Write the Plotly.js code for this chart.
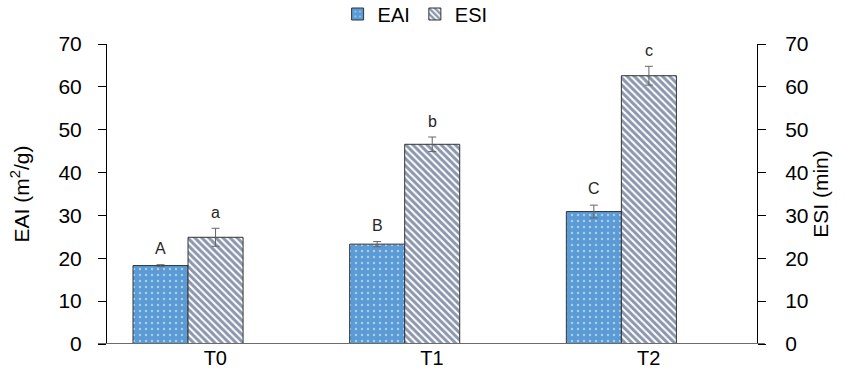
<!DOCTYPE html>
<html>
<head>
<meta charset="utf-8">
<script src="https://cdn.plot.ly/plotly-3.0.1.min.js"></script>
<style>html,body{margin:0;padding:0;background:#fff;}#chart{width:845px;height:387px;}</style>
</head>
<body>
<div id="chart"></div>
<script>
// ---- data ----
const categories = ["T0", "T1", "T2"];
const eaiValues = [18.3, 23.3, 30.9];
const eaiErrors = [0.2, 0.6, 1.5];
const eaiLetters = ["A", "B", "C"];
const esiValues = [24.9, 46.6, 62.6];
const esiErrors = [2.1, 1.7, 2.2];
const esiLetters = ["a", "b", "c"];
const yTicks = [0, 10, 20, 30, 40, 50, 60, 70];

// ---- style ----
const barWidth = 0.254;
const eaiOffset = -0.38;
const esiOffset = -0.126;
const idx = categories.map((c, i) => i);
const font = "Liberation Sans, Arial, sans-serif";

const eai = {
  type: "bar", name: "EAI", x: idx, y: eaiValues, yaxis: "y",
  width: barWidth, offset: eaiOffset,
  marker: {
    color: "#5B9BD5",
    line: {color: "#333333", width: 1},
    pattern: {shape: ".", bgcolor: "#5B9BD5", fgcolor: "#ffffff", size: 6, solidity: 0.12, fillmode: "overlay"}
  },
  error_y: {type: "data", array: eaiErrors, visible: true, color: "#666666", thickness: 1, width: 4},
  hoverinfo: "skip"
};
const esi = {
  type: "bar", name: "ESI", x: idx, y: esiValues, yaxis: "y2",
  width: barWidth, offset: esiOffset,
  marker: {
    color: "#ffffff",
    line: {color: "#333333", width: 1},
    pattern: {shape: "\\", bgcolor: "#ffffff", fgcolor: "#1A2F5C", size: 5, solidity: 0.6, fillmode: "overlay"}
  },
  error_y: {type: "data", array: esiErrors, visible: true, color: "#666666", thickness: 1, width: 4},
  hoverinfo: "skip"
};
// empty helper traces so that the tick-mark axes are drawn
const tickHolderL = {type: "scatter", mode: "markers", x: [], y: [], yaxis: "y3", showlegend: false, hoverinfo: "skip"};
const tickHolderR = {type: "scatter", mode: "markers", x: [], y: [], yaxis: "y4", showlegend: false, hoverinfo: "skip"};

const annotations = [];
idx.forEach(i => {
  annotations.push({x: i + eaiOffset + barWidth / 2, y: eaiValues[i] + eaiErrors[i], xref: "x", yref: "y",
    text: eaiLetters[i], showarrow: false, yanchor: "bottom", yshift: 6, font: {family: font, size: 16, color: "#262626"}});
  annotations.push({x: i + esiOffset + barWidth / 2, y: esiValues[i] + esiErrors[i], xref: "x", yref: "y2",
    text: esiLetters[i], showarrow: false, yanchor: "bottom", yshift: 5, font: {family: font, size: 16, color: "#262626"}});
});

const tickAxis = (side) => ({
  range: [0, 70], tickvals: yTicks, overlaying: "y", side: side, showgrid: false, zeroline: false,
  showline: false, showticklabels: false, ticks: "outside", ticklen: 8, tickcolor: "#000000", tickwidth: 1
});

const layout = {
  width: 845, height: 387,
  margin: {l: 107, r: 88, t: 44, b: 43, autoexpand: false},
  paper_bgcolor: "#ffffff", plot_bgcolor: "#ffffff",
  font: {family: font, color: "#000000", size: 20},
  barmode: "overlay",
  showlegend: true,
  legend: {orientation: "h", x: 0.474, xanchor: "center", y: 1.1, yanchor: "middle",
    font: {family: font, size: 20, color: "#000"}, itemwidth: 30, tracegroupgap: 0, bgcolor: "rgba(0,0,0,0)"},
  xaxis: {
    range: [-0.5, 2.5], tickvals: idx, ticktext: categories,
    showline: false, showgrid: false, zeroline: false, ticks: "",
    tickfont: {family: font, size: 20, color: "#000"}, fixedrange: true
  },
  yaxis: {
    range: [0, 70], tickvals: yTicks, showgrid: false, zeroline: false,
    showline: true, linecolor: "#000000", linewidth: 1,
    ticks: "outside", ticklen: 20, tickcolor: "rgba(0,0,0,0)", tickwidth: 1,
    tickfont: {family: font, size: 21, color: "#000"},
    title: {text: "EAI (m<sup>2</sup>/g)", font: {family: font, size: 21, color: "#000"}, standoff: 23}
  },
  yaxis2: {
    range: [0, 70], tickvals: yTicks, overlaying: "y", side: "right", showgrid: false, zeroline: false,
    showline: true, linecolor: "#000000", linewidth: 1,
    ticks: "outside", ticklen: 23, tickcolor: "rgba(0,0,0,0)", tickwidth: 1,
    tickfont: {family: font, size: 21, color: "#000"},
    title: {text: "ESI (min)", font: {family: font, size: 21, color: "#000"}, standoff: 3}
  },
  yaxis3: tickAxis("left"),
  yaxis4: tickAxis("right"),
  shapes: [{type: "line", xref: "paper", yref: "y", x0: -0.014, x1: 1.012, y0: 0, y1: 0,
    line: {color: "#6b6b6b", width: 2}}],
  annotations: annotations
};

Plotly.newPlot("chart", [tickHolderL, tickHolderR, eai, esi], layout, {staticPlot: true, displayModeBar: false});
</script>
</body>
</html>
